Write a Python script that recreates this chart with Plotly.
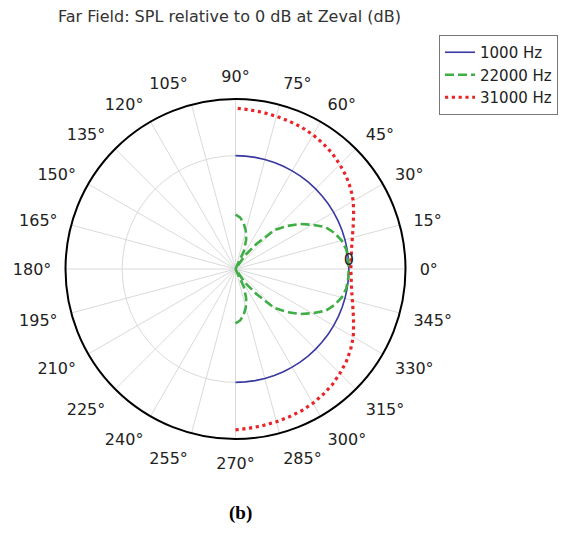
import plotly.graph_objects as go

# angles in degrees (front half-space, -90..90)
theta = [-90, -85, -80, -75, -70, -65, -60, -55, -50, -45, -40, -35, -30, -25, -20, -15, -10, -5,
         0, 5, 10, 15, 20, 25, 30, 35, 40, 45, 50, 55, 60, 65, 70, 75, 80, 85, 90]

spl_1000 = [0.0] * 37

spl_22000 = [-20.8, -21.7, -23.5, -26.0, -29.0, -33.0, -40.0, -34.0, -28.5, -20.5, -16.4, -12.3, -8.8, -5.0, -2.8, -1.2, -0.3, -0.1,
             0.0, -0.1, -0.3, -1.2, -2.8, -5.0, -8.8, -12.3, -16.4, -20.5, -28.5, -34.0, -40.0, -33.0, -29.0, -26.0, -23.5, -21.7, -20.8]

spl_31000 = [16.8, 16.4, 16.1, 15.8, 15.5, 15.2, 14.7, 14.0, 13.2, 12.1, 11.0, 9.6, 8.0, 6.0, 4.2, 2.7, 1.6, 1.0,
             0.7, 1.0, 1.6, 2.7, 4.2, 6.0, 8.0, 9.6, 11.0, 12.1, 13.2, 14.0, 14.7, 15.2, 15.5, 15.8, 16.1, 16.4, 16.8]

series_names = ["1000 Hz", "22000 Hz", "31000 Hz"]
angle_ticks = list(range(0, 360, 15))
angle_labels = [f"{a}°" for a in angle_ticks]

# page body has an 8px default margin; work in reference-pixel coordinates
OFF = 8
W, H = 567 - OFF, 547 - OFF
cx, cy, R = 235.5, 269, 170


def px(x):
    return (x - OFF) / W


def py(y):
    return 1 - (y - OFF) / H


fig = go.Figure()
fig.add_trace(go.Scatterpolar(r=spl_1000, theta=theta, mode="lines", name=series_names[0],
                              line=dict(color="#3a3aa2", width=1.6)))
fig.add_trace(go.Scatterpolar(r=spl_22000, theta=theta, mode="lines", name=series_names[1],
                              line=dict(color="#3fae45", width=2.6, dash="9px,4px")))
fig.add_trace(go.Scatterpolar(r=spl_31000, theta=theta, mode="lines", name=series_names[2],
                              line=dict(color="#e8262a", width=3.2, dash="3.2px,3.6px")))

fig.update_layout(
    width=W, height=H,
    margin=dict(l=0, r=0, t=0, b=0),
    paper_bgcolor="white",
    font=dict(family="DejaVu Sans", size=16, color="#222"),
    polar=dict(
        domain=dict(x=[px(cx - R), px(cx + R)], y=[py(cy + R), py(cy - R)]),
        bgcolor="white",
        radialaxis=dict(range=[-40, 20], tickvals=[0], ticktext=["0"], angle=0, side="counterclockwise",
                        showline=False, ticks="", gridcolor="#dadada", gridwidth=1,
                        tickfont=dict(size=16, color="#222")),
        angularaxis=dict(rotation=0, direction="counterclockwise", tickvals=angle_ticks,
                         ticktext=angle_labels, ticks="outside", ticklen=10,
                         tickcolor="rgba(0,0,0,0)", showline=True, linecolor="black",
                         linewidth=2, gridcolor="#dadada", gridwidth=1,
                         tickfont=dict(size=16, color="#222")),
    ),
    showlegend=True,
    legend=dict(x=px(558), y=py(35), xanchor="right", yanchor="top",
                bordercolor="#777", borderwidth=1, bgcolor="white",
                font=dict(size=15, color="#222"), itemwidth=30, tracegroupgap=0),
    annotations=[
        dict(text="Far Field: SPL relative to 0 dB at Zeval (dB)", x=px(56), y=py(17),
             xref="paper", yref="paper", xanchor="left", yanchor="middle", showarrow=False,
             font=dict(size=16, color="#333")),
        dict(text="<b>(b)</b>", x=px(240), y=py(513), xref="paper", yref="paper",
             xanchor="center", yanchor="middle", showarrow=False,
             font=dict(family="Liberation Serif", size=19, color="black")),
    ],
)

fig.write_html("out.html")
